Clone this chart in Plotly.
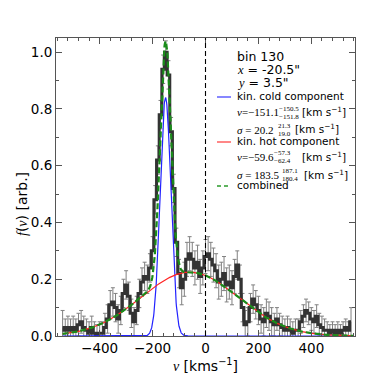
import numpy as np
import plotly.graph_objects as go

# line-of-sight velocity bins [km/s] and measured f(v)
v_bins = list(range(-540, 560, 10))
f_obs = [0.03, 0.02, 0.03, 0.02, 0.03, 0.02, 0.04, 0.05, 0.03, 0.02,
         0.01, 0.03, 0.01, 0.00, 0.01, 0.01, 0.03, 0.06, 0.11, 0.12,
         0.10, 0.06, 0.09, 0.15, 0.18, 0.14, 0.08, 0.05, 0.09, 0.15,
         0.19, 0.21, 0.20, 0.24, 0.30, 0.48, 0.62, 0.78, 0.94, 1.00,
         0.92, 0.72, 0.52, 0.33, 0.22, 0.17, 0.20, 0.27, 0.29, 0.27,
         0.24, 0.26, 0.21, 0.24, 0.28, 0.29, 0.27, 0.25, 0.23, 0.19,
         0.20, 0.22, 0.18, 0.19, 0.17, 0.21, 0.25, 0.20, 0.10, 0.04,
         0.05, 0.10, 0.13, 0.11, 0.09, 0.06, 0.05, 0.08, 0.07, 0.05,
         0.04, 0.06, 0.04, 0.03, 0.02, 0.03, 0.02, 0.01, 0.02, 0.02,
         0.05, 0.07, 0.09, 0.08, 0.06, 0.05, 0.07, 0.04, 0.03, 0.02,
         0.02, 0.01, 0.02, 0.01, 0.02, 0.01, 0.02, 0.03, 0.02, 0.05]
f_err = [0.06, 0.04, 0.04, 0.04, 0.04, 0.04, 0.04, 0.04, 0.04, 0.04,
         0.04, 0.04, 0.04, 0.04, 0.04, 0.04, 0.05, 0.05, 0.05, 0.05,
         0.05, 0.05, 0.05, 0.05, 0.05, 0.05, 0.05, 0.05, 0.05, 0.05,
         0.05, 0.05, 0.05, 0.05, 0.05, 0.05, 0.05, 0.05, 0.05, 0.04,
         0.05, 0.05, 0.05, 0.05, 0.05, 0.06, 0.06, 0.06, 0.06, 0.06,
         0.06, 0.06, 0.06, 0.06, 0.06, 0.06, 0.06, 0.06, 0.06, 0.06,
         0.06, 0.06, 0.06, 0.06, 0.06, 0.06, 0.05, 0.05, 0.05, 0.05,
         0.05, 0.05, 0.05, 0.05, 0.05, 0.05, 0.05, 0.05, 0.05, 0.05,
         0.04, 0.04, 0.04, 0.04, 0.04, 0.04, 0.04, 0.04, 0.04, 0.04,
         0.04, 0.04, 0.04, 0.04, 0.04, 0.04, 0.04, 0.04, 0.04, 0.04,
         0.03, 0.03, 0.03, 0.03, 0.03, 0.03, 0.03, 0.03, 0.03, 0.05]

# fitted gaussian components (amplitude, mean, sigma)
cold_amp, cold_mu, cold_sig = 0.84, -151.1, 20.2
hot_amp, hot_mu, hot_sig = 0.225, -59.6, 183.5

vv = np.linspace(-540, 560, 1101)
cold = cold_amp * np.exp(-0.5 * ((vv - cold_mu) / cold_sig) ** 2)
hot = hot_amp * np.exp(-0.5 * ((vv - hot_mu) / hot_sig) ** 2)
comb = cold + hot

# page pixel -> paper coords (plot area 56..355 x 38..336 on page)
def px(x):
    return (x - 56) / 299.0

def py(y):
    return (336 - y) / 298.0

SERIF = "Liberation Serif"
SANS = "DejaVu Sans"

def m(s):
    # math-style italic serif symbol
    return f'<span style="font-family:{SERIF}"><i>{s}</i></span>'

fig = go.Figure()
fig.add_trace(go.Scatter(x=v_bins, y=f_obs, mode="lines", line_shape="hvh",
                         line=dict(color="#333333", width=3),
                         error_y=dict(type="data", array=f_err, color="#808080",
                                      thickness=1, width=2),
                         showlegend=False))
fig.add_trace(go.Scatter(x=vv, y=cold, mode="lines", line=dict(color="#2222ff", width=1.2),
                         showlegend=False))
fig.add_trace(go.Scatter(x=vv, y=hot, mode="lines", line=dict(color="#ff2222", width=1.2),
                         showlegend=False))
fig.add_trace(go.Scatter(x=vv, y=comb, mode="lines",
                         line=dict(color="#1a8c1a", width=2.2, dash="6px,3px"),
                         showlegend=False))

fig.add_vline(x=0, line=dict(color="black", width=1.1, dash="5px,3px"))


def text(s, x, y, size=10, family=SANS, anchor="middle"):
    fig.add_annotation(text=s, xref="paper", yref="paper", x=px(x), y=py(y),
                       xanchor="left", yanchor=anchor, showarrow=False,
                       font=dict(size=size, family=family, color="black"))


def key(y, color, dash="solid", width=1.6):
    fig.add_shape(type="line", xref="paper", yref="paper",
                  x0=px(217), x1=px(231), y0=py(y), y1=py(y),
                  line=dict(color=color, width=width, dash=dash))


# info block
text("bin 130", 235, 57, size=12.5)
text(m("x") + " = -20.5\"", 235, 70, size=12.5)
text(m("y") + " = 3.5\"", 235, 82, size=12.5)

# manual legend
key(97, "#6a6aff")
text("kin. cold component", 235, 96, size=10.5)
text("<i>v</i>=−151.1", 235, 112, size=11, family=SERIF)
text("−150.5", 277, 109, size=7, family=SERIF)
text("−151.8", 277, 117, size=7, family=SERIF)
text("[km s<sup>−1</sup>]", 300, 111, size=10.5)
text("<i>σ</i> = 20.2", 235, 130, size=11, family=SERIF)
text("21.3", 276, 126, size=7, family=SERIF)
text("19.0", 276, 134, size=7, family=SERIF)
text("[km s<sup>−1</sup>]", 293, 129, size=10.5)

key(142, "#ff6a6a")
text("kin. hot component", 235, 141, size=10.5)
text("<i>v</i>=−59.6", 235, 157, size=11, family=SERIF)
text("−57.3", 272, 153, size=7, family=SERIF)
text("−62.4", 272, 161, size=7, family=SERIF)
text("[km s<sup>−1</sup>]", 300, 156, size=10.5)
text("<i>σ</i> = 183.5", 235, 175, size=11, family=SERIF)
text("187.1", 280, 171, size=7, family=SERIF)
text("180.4", 280, 179, size=7, family=SERIF)
text("[km s<sup>−1</sup>]", 302, 174, size=10.5)

key(186, "#5fb35f", dash="4px,3px", width=2)
text("combined", 235, 185, size=10.5)

# y axis title
fig.add_annotation(text=m("f") + "(" + m("v") + ") [arb.]", xref="paper", yref="paper",
                   x=px(22), y=py(204), showarrow=False, textangle=-90,
                   xanchor="center", yanchor="middle",
                   font=dict(size=14, family=SANS, color="black"))

fig.update_xaxes(range=[-565, 565], tickvals=[-400, -200, 0, 200, 400],
                 ticktext=["−400", "−200", "0", "200", "400"], tickangle=0,
                 ticks="inside", ticklen=6, tickcolor="#555", mirror="ticks", showline=True,
                 linecolor="#555", linewidth=1, showgrid=False, zeroline=False,
                 minor=dict(dtick=40, ticks="inside", ticklen=3, tickcolor="#555", showgrid=False),
                 title=dict(text=m("v") + " [kms<sup>−1</sup>]", standoff=4, font=dict(size=14)),
                 tickfont=dict(size=13.5))
fig.update_yaxes(range=[0, 1.05], dtick=0.2, tickformat=".1f",
                 ticks="inside", ticklen=6, tickcolor="#555", mirror="ticks", showline=True,
                 linecolor="#555", linewidth=1, showgrid=False, zeroline=False,
                 minor=dict(dtick=0.1, ticks="inside", ticklen=3, tickcolor="#555", showgrid=False),
                 tickfont=dict(size=13.5))

fig.update_layout(width=374, height=374, template="none",
                  plot_bgcolor="white", paper_bgcolor="white",
                  font=dict(family=SANS, color="black"),
                  margin=dict(l=48, r=27, t=30, b=46, autoexpand=False),
                  showlegend=False)

fig.write_html("out.html")
